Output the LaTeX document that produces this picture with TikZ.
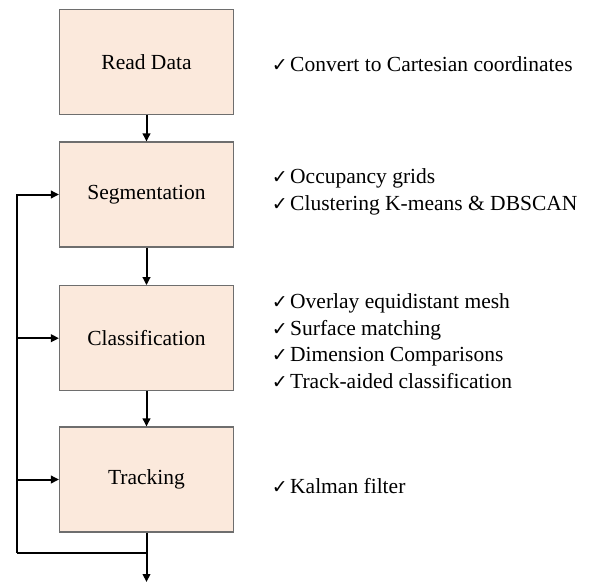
\documentclass[tikz,border=0pt]{standalone}
\usepackage{fontspec}
\setmainfont{Liberation Serif}
\newfontfamily\ckfont{DejaVu Sans}
\usetikzlibrary{arrows.meta}
\definecolor{boxfill}{RGB}{251,233,220}
\definecolor{boxdraw}{RGB}{110,110,110}
\newcommand{\ck}{\makebox[18.3pt][l]{\ckfont\fontsize{19}{19}\selectfont ✓}}
\tikzset{
  stepbox/.style={draw=boxdraw, fill=boxfill, line width=1.1pt, minimum width=174pt, minimum height=105pt, inner sep=0pt, font=\fontsize{21.5}{26.5}\selectfont},
  notes/.style={anchor=west, align=left, inner sep=0pt, font=\fontsize{21.5}{26.5}\selectfont},
  conn/.style={line width=2pt, -{Triangle[length=8pt,width=7.5pt]}},
  plain/.style={line width=2pt}
}
\begin{document}
\begin{tikzpicture}[x=1pt,y=1pt]
\useasboundingbox (0,0) rectangle (589,-582);
\node[stepbox] (rd) at (146.5,-62) {Read Data};
\node[stepbox] (seg) at (146.5,-194.5) {Segmentation};
\node[stepbox] (cls) at (146.5,-338.2) {Classification};
\node[stepbox] (trk) at (146.5,-479.5) {Tracking};
\node[notes] (n1) at (271.7,-64) {\ck Convert to Cartesian coordinates};
\node[notes] (n2) at (271.7,-192) {\ck Occupancy grids\\\ck Clustering K-means \& DBSCAN};
\node[notes] (n3) at (271.7,-341) {\ck Overlay equidistant mesh\\\ck Surface matching\\\ck Dimension Comparisons\\\ck Track-aided classification};
\node[notes] (n4) at (271.7,-486) {\ck Kalman filter};
\coordinate (fbj) at (146.5,-552.7);
\coordinate (fbl) at (16.7,-552.7);
\coordinate (out) at (146.5,-582);
\draw[conn] (rd) -- (seg);
\draw[conn] (seg) -- (cls);
\draw[conn] (cls) -- (trk);
\draw[conn] (trk.south) -- (out);
\draw[plain] (fbj) -- (fbl);
\draw[conn] (fbl) |- (seg.west);
\draw[conn] (fbl |- cls.west) -- (cls.west);
\draw[conn] (fbl |- trk.west) -- (trk.west);
\end{tikzpicture}
\end{document}
